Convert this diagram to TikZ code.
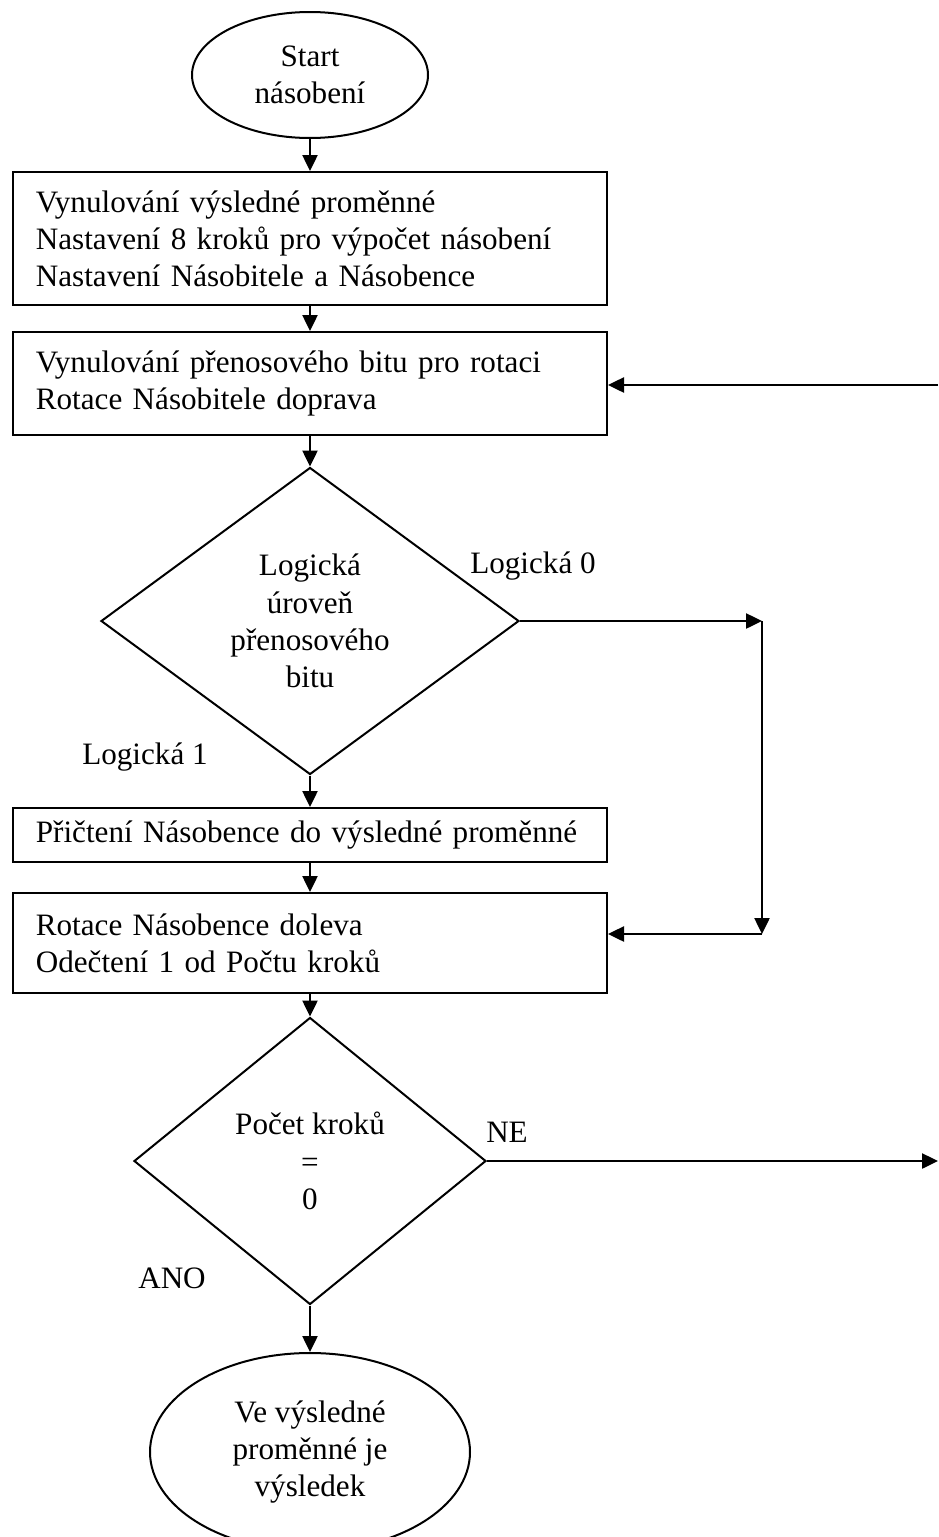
\documentclass[tikz,border=0pt]{standalone}
\usepackage{fontspec}
\setmainfont{Liberation Serif}
\usetikzlibrary{shapes.geometric,arrows.meta}
\begin{document}
\begin{tikzpicture}[x=0.35pt,y=-0.35pt,
  font=\fontsize{10.9}{13}\selectfont,
  every path/.style={line width=0.7pt},
  arr/.style={-{Triangle[length=5.6pt,width=5.3pt]}},
  procbox/.style={draw,rectangle,line width=0.7pt,minimum width=207.9pt,text width=191.9pt,inner xsep=8pt,inner ysep=0pt,align=left},
  term/.style={draw,ellipse,line width=0.7pt,inner sep=0pt,align=center},
  decide/.style={draw,diamond,line width=0.7pt,inner sep=0pt,align=center},
  lbl/.style={inner sep=0pt}]
\fill[white] (0,0) rectangle (938,1537);
\useasboundingbox (0,0) rectangle (938,1537);

\node[term,minimum width=82.6pt,minimum height=44.1pt] (s) at (310,75) {Start\\násobení};
\node[procbox,minimum height=46.55pt] (b1) at (310,238.5) {\mbox{Vynulování výsledné proměnné}\\\mbox{Nastavení 8 kroků pro výpočet násobení}\\\mbox{Nastavení Násobitele a Násobence}};
\node[procbox,minimum height=36.05pt] (b2) at (310,383.5) {\mbox{Vynulování přenosového bitu pro rotaci}\\\mbox{Rotace Násobitele doprava}};
\node[decide,aspect=1.36,minimum width=146.3pt,minimum height=107.45pt] (d1) at (310,621) {Logická\\úroveň\\přenosového\\bitu};
\node[procbox,minimum height=18.9pt] (b3) at (310,835) {\mbox{Přičtení Násobence do výsledné proměnné}};
\node[procbox,minimum height=35pt] (b4) at (310,943) {\mbox{Rotace Násobence doleva}\\\mbox{Odečtení 1 od Počtu kroků}};
\node[decide,aspect=1.23,minimum width=123.2pt,minimum height=100.45pt] (d2) at (310,1161) {Počet kroků\\=\\0};
\node[term,minimum width=112pt,minimum height=69.3pt] (e) at (310,1452) {Ve výsledné\\proměnné je\\výsledek};

\node[lbl] (l0) at (533,566) {Logická 0};
\node[lbl] (l1) at (145,757) {Logická 1};
\node[lbl] (ne) at (507,1132) {NE};
\node[lbl] (ano) at (172,1278) {ANO};

\coordinate (r1) at (938,385);
\coordinate (c1) at (762,621);
\coordinate (c2) at (762,934);
\coordinate (r2) at (938,1161);

\draw[arr] (s.south) -- (b1.north);
\draw[arr] (b1.south) -- (b2.north);
\draw[arr] (r1) -- (b2.east |- r1);
\draw[arr] (b2.south) -- (d1.north);
\draw[arr] (d1.east) -- (c1);
\draw[arr] (c1) -- (c2);
\draw[arr] (c2) -- (b4.east |- c2);
\draw[arr] (d1.south) -- (b3.north);
\draw[arr] (b3.south) -- (b4.north);
\draw[arr] (b4.south) -- (d2.north);
\draw[arr] (d2.east) -- (r2);
\draw[arr] (d2.south) -- (e.north);
\end{tikzpicture}
\end{document}
